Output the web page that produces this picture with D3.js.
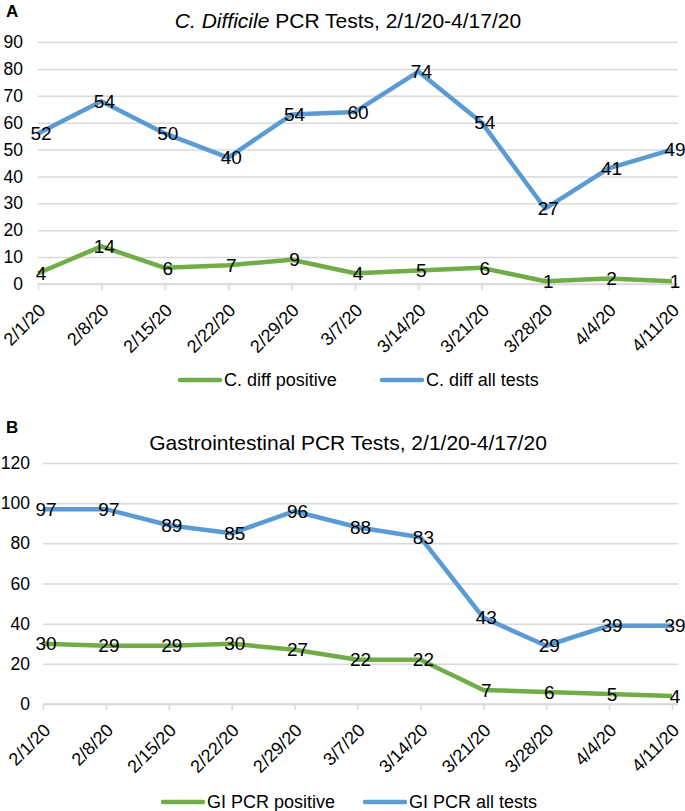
<!DOCTYPE html>
<html>
<head>
<meta charset="utf-8">
<script src="https://cdn.jsdelivr.net/npm/d3@7"></script>
<style>
  body { margin: 0; background: #fff; }
  svg { display: block; font-family: "Liberation Sans", Arial, sans-serif; }
</style>
</head>
<body>
<div id="chart"></div>
<script>
// categories (weekly dates)
const dates = ["2/1/20", "2/8/20", "2/15/20", "2/22/20", "2/29/20", "3/7/20",
  "3/14/20", "3/21/20", "3/28/20", "4/4/20", "4/11/20"];

// panel A, C. difficile (Excel stacked line: all tests sits on top of positive)
const cdiffPositive = [4, 14, 6, 7, 9, 4, 5, 6, 1, 2, 1];
const cdiffAllTests = [52, 54, 50, 40, 54, 60, 74, 54, 27, 41, 49];
const cdiffTicks = [0, 10, 20, 30, 40, 50, 60, 70, 80, 90];

// panel B, GI PCR
const giPositive = [30, 29, 29, 30, 27, 22, 22, 7, 6, 5, 4];
const giAllTests = [97, 97, 89, 85, 96, 88, 83, 43, 29, 39, 39];
const giTicks = [0, 20, 40, 60, 80, 100, 120];

const green = "#70ad47";
const blue = "#5b9bd5";
const gridColor = "#d9d9d9";

const svg = d3.select("#chart")
  .append("svg")
  .attr("width", 685)
  .attr("height", 811);

svg.append("rect").attr("width", 685).attr("height", 811).attr("fill", "#fff");

function drawPanel(opt) {
  const g = svg.append("g");

  const x = d3.scalePoint()
    .domain(dates)
    .range([opt.left, opt.right]);

  const y = d3.scaleLinear()
    .domain([0, d3.max(opt.ticks)])
    .range([opt.bottom, opt.top]);

  // gridlines + y labels
  const yAxis = g.append("g")
    .attr("transform", `translate(${opt.left},0)`)
    .call(d3.axisLeft(y).tickValues(opt.ticks).tickSize(-(opt.gridRight - opt.left)).tickPadding(opt.yPad));
  yAxis.select(".domain").remove();
  yAxis.selectAll(".tick line").attr("stroke", gridColor).attr("stroke-width", 1.5);
  yAxis.selectAll(".tick text")
    .attr("fill", "#000")
    .style("font-size", "17.5px")
    .style("font-family", "Liberation Sans, Arial, sans-serif");

  // x axis
  const xAxis = g.append("g")
    .attr("transform", `translate(0,${opt.bottom})`)
    .call(d3.axisBottom(x).tickSize(6).tickFormat(""));
  xAxis.select(".domain").remove();
  xAxis.selectAll(".tick line").attr("stroke", gridColor).attr("stroke-width", 1.5);
  g.append("line")
    .attr("x1", opt.left).attr("x2", opt.gridRight)
    .attr("y1", opt.bottom).attr("y2", opt.bottom)
    .attr("stroke", gridColor).attr("stroke-width", 1.5);

  g.selectAll(".xlab")
    .data(dates)
    .enter()
    .append("text")
    .attr("class", "xlab")
    .attr("transform", d => `translate(${x(d) + 4},${opt.bottom + 23}) rotate(-45)`)
    .attr("text-anchor", "end")
    .attr("dy", "0.35em")
    .style("font-size", "18px")
    .text(d => d);

  // lines
  const line = d3.line()
    .x(d => x(d.date))
    .y(d => y(d.value));

  opt.series.forEach(s => {
    const pts = dates.map((d, i) => ({ date: d, value: s.plotted[i], label: s.labels[i] }));
    g.append("path")
      .datum(pts)
      .attr("fill", "none")
      .attr("stroke", s.color)
      .attr("stroke-width", 4.5)
      .attr("stroke-linejoin", "round")
      .attr("d", line);

    g.selectAll(null)
      .data(pts)
      .enter()
      .append("text")
      .attr("x", d => x(d.date) + 3)
      .attr("y", d => y(d.value))
      .attr("dy", "0.35em")
      .attr("text-anchor", "middle")
      .style("font-size", "19px")
      .text(d => d.label);
  });

  // title
  const title = g.append("text")
    .attr("x", 348)
    .attr("y", opt.titleY)
    .attr("text-anchor", "middle")
    .style("font-size", "21px");
  opt.title.forEach(part => {
    title.append("tspan").style("font-style", part.italic ? "italic" : "normal").text(part.text);
  });

  g.append("text")
    .attr("x", 6)
    .attr("y", opt.letterY)
    .style("font-size", "17px")
    .style("font-weight", "bold")
    .text(opt.letter);

  // legend
  const legendX = [163 + opt.legendShift, 365 + opt.legendShift];
  opt.series.slice().reverse().forEach((s, i) => {
    g.append("line")
      .attr("x1", legendX[i]).attr("x2", legendX[i] + 40)
      .attr("y1", opt.legendY).attr("y2", opt.legendY)
      .attr("stroke", s.color).attr("stroke-width", 4.5).attr("stroke-linecap", "round");
    g.append("text")
      .attr("x", legendX[i] + 44)
      .attr("y", opt.legendY)
      .attr("dy", "0.35em")
      .style("font-size", "18px")
      .text(s.name);
  });
}

// stack for panel A
const stackRows = dates.map((d, i) => ({ positive: cdiffPositive[i], all: cdiffAllTests[i] }));
const stacked = d3.stack().keys(["positive", "all"])(stackRows);

drawPanel({
  left: 38, right: 672, gridRight: 678, top: 42, bottom: 284,
  ticks: cdiffTicks, yPad: 15,
  titleY: 28, letterY: 17, letter: "A",
  title: [{ text: "C. Difficile", italic: true }, { text: " PCR Tests, 2/1/20-4/17/20", italic: false }],
  legendY: 380, legendShift: 17,
  series: [
    { name: "C. diff all tests", color: blue, plotted: stacked[1].map(d => d[1]), labels: cdiffAllTests },
    { name: "C. diff positive", color: green, plotted: stacked[0].map(d => d[1]), labels: cdiffPositive }
  ]
});

drawPanel({
  left: 43, right: 672, gridRight: 678, top: 463, bottom: 704,
  ticks: giTicks, yPad: 13,
  titleY: 450, letterY: 433, letter: "B",
  title: [{ text: "Gastrointestinal PCR Tests, 2/1/20-4/17/20", italic: false }],
  legendY: 802, legendShift: 0,
  series: [
    { name: "GI PCR all tests", color: blue, plotted: giAllTests, labels: giAllTests },
    { name: "GI PCR positive", color: green, plotted: giPositive, labels: giPositive }
  ]
});
</script>
</body>
</html>
